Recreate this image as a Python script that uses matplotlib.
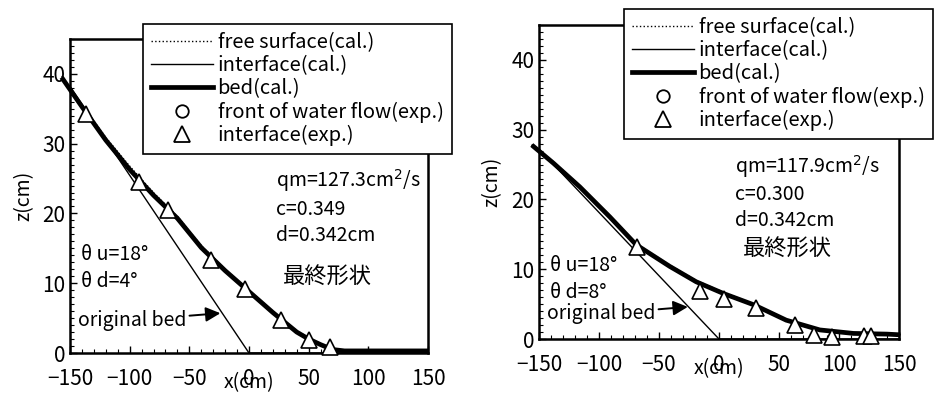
import numpy as np
import matplotlib.pyplot as plt
from matplotlib.ticker import MultipleLocator
from matplotlib.lines import Line2D

plt.rcParams['font.family'] = ['Noto Sans CJK JP', 'DejaVu Sans']

# left panel (theta d = 4 deg)
bed_x1 = [-157, -140, -120, -100, -80, -60, -40, -20, 0, 20, 40, 50, 60, 70, 80, 150]
bed_z1 = [39.5, 35.3, 30.5, 26.3, 22.6, 19.3, 15.1, 11.8, 8.8, 5.8, 3.0, 2.0, 1.2, 0.5, 0.3, 0.3]
surf_z1 = [39.7, 35.6, 30.9, 26.8, 23.0, 19.6, 15.4, 12.0, 9.0, 6.0, 3.2, 2.2, 1.3, 0.6, 0.4, 0.4]
intf_z1 = [39.4, 35.2, 30.3, 26.1, 22.4, 19.1, 15.0, 11.7, 8.7, 5.7, 2.9, 1.9, 1.1, 0.5, 0.3, 0.3]
tri_x1 = [-137, -92, -68, -32, -3, 27, 50, 68]
tri_z1 = [34.2, 24.5, 20.5, 13.3, 9.2, 4.7, 1.9, 0.9]
orig_x1 = [-150, 0, 150]
orig_z1 = [38.2, 0, 0]

# right panel (theta d = 8 deg)
bed_x2 = [-156, -138, -116, -91, -69, -41, -19, 4, 29, 56, 84, 112, 140, 151]
bed_z2 = [27.8, 25.2, 21.8, 17.5, 13.5, 10.4, 8.2, 6.5, 4.9, 2.7, 1.3, 0.8, 0.7, 0.6]
surf_z2 = [27.9, 25.4, 22.0, 17.7, 13.7, 10.6, 8.4, 6.7, 5.0, 2.8, 1.4, 0.9, 0.8, 0.7]
intf_z2 = [27.7, 25.1, 21.7, 17.4, 13.4, 10.3, 8.1, 6.4, 4.8, 2.6, 1.2, 0.8, 0.7, 0.6]
tri_x2 = [-68, -16, 4, 31, 63, 79, 94, 121, 127]
tri_z2 = [13.2, 6.9, 5.7, 4.4, 2.0, 0.6, 0.3, 0.4, 0.4]
orig_x2 = [-150, 0, 150]
orig_z2 = [27.2, 0, 0]

labels = ['free surface(cal.)', 'interface(cal.)', 'bed(cal.)',
          'front of water flow(exp.)', 'interface(exp.)']
xticks = [-150, -100, -50, 0, 50, 100, 150]
yticks = [0, 10, 20, 30, 40]

W, H = 941, 400
fig = plt.figure(figsize=(W / 100, H / 100), dpi=100)


def px_axes(l, t, r, b):
    return fig.add_axes([l / W, 1 - b / H, (r - l) / W, (b - t) / H])


def panel(ax, bx, bz, sz, iz, tx, tz, ox, oz, info, thd, th_y, arrow_xy, text_pos, leg_pos):
    ax.plot(ox, oz, color='k', lw=1.0)
    ax.plot(bx, bz, color='k', lw=3.4, clip_on=False, solid_capstyle='butt')
    ax.plot(bx, iz, color='k', lw=0.8, clip_on=False)
    ax.plot(bx, sz, color='k', lw=0.9, ls=':', clip_on=False)
    ax.plot(tx, tz, ls='none', marker='^', ms=11, mfc='white', mec='k', mew=1.2,
            clip_on=False, zorder=5)
    ax.set_xlim(-150, 150)
    ax.set_ylim(0, 45)
    ax.set_xticks(xticks)
    ax.set_yticks(yticks)
    ax.xaxis.set_minor_locator(MultipleLocator(10))
    ax.yaxis.set_minor_locator(MultipleLocator(1))
    ax.tick_params(which='both', direction='in', top=False, right=False, labelsize=15)
    ax.tick_params(which='major', length=5, width=1)
    ax.tick_params(which='minor', length=3, width=0.8)
    ax.tick_params(axis='x', pad=11)
    for s in ax.spines.values():
        s.set_linewidth(1.8)
    ax.set_xlabel('x(cm)', fontsize=14, labelpad=-13)
    ax.set_ylabel('z(cm)', fontsize=14)
    ax.yaxis.set_label_coords(-0.10, 0.5)

    tx0, ty0 = text_pos
    ax.text(tx0, ty0, info, fontsize=14, va='top', linespacing=1.3)
    ax.text(-141, th_y, 'θ u=18°\nθ d=%d°' % thd,
            fontsize=14, va='top', linespacing=1.35)
    ax.annotate('original bed', xy=arrow_xy, xytext=(-143, arrow_xy[1] - 1),
                fontsize=14, va='center',
                arrowprops=dict(arrowstyle='-|>', color='k', lw=1.4,
                                mutation_scale=22, shrinkA=0, shrinkB=0))

    handles = [Line2D([], [], color='k', lw=1.0, ls=':'),
               Line2D([], [], color='k', lw=1.0),
               Line2D([], [], color='k', lw=3.4),
               Line2D([], [], ls='none', marker='o', ms=9, mfc='white', mec='k', mew=1.3),
               Line2D([], [], ls='none', marker='^', ms=11, mfc='white', mec='k', mew=1.3)]
    leg = fig.legend(handles, labels, loc='upper left',
                     bbox_to_anchor=(leg_pos[0] / W, 1 - leg_pos[1] / H),
                     fontsize=14.5, frameon=True, fancybox=False, borderpad=0.4,
                     handlelength=3.1, handletextpad=0.2, labelspacing=0.11,
                     borderaxespad=0)
    leg.get_frame().set_edgecolor('k')
    leg.get_frame().set_linewidth(1.2)
    leg.get_frame().set_alpha(1)


ax1 = px_axes(70, 39, 428, 353)
panel(ax1, bed_x1, bed_z1, surf_z1, intf_z1, tri_x1, tri_z1, orig_x1, orig_z1,
      'qm=127.3cm$^2$/s\nc=0.349\nd=0.342cm', 4, 15.6, (-24, 5.7), (23, 26.6), (143, 24))
ax1.text(66, 11.0, '最終形状', fontsize=16, va='center', ha='center')

ax2 = px_axes(539, 25, 899, 339)
panel(ax2, bed_x2, bed_z2, surf_z2, intf_z2, tri_x2, tri_z2, orig_x2, orig_z2,
      'qm=117.9cm$^2$/s\nc=0.300\nd=0.342cm', 8, 12.0, (-26, 4.6), (13, 26.7), (624, 9))
ax2.text(57, 13.0, '最終形状', fontsize=16, va='center', ha='center')

fig.savefig('out.png', dpi=100)
